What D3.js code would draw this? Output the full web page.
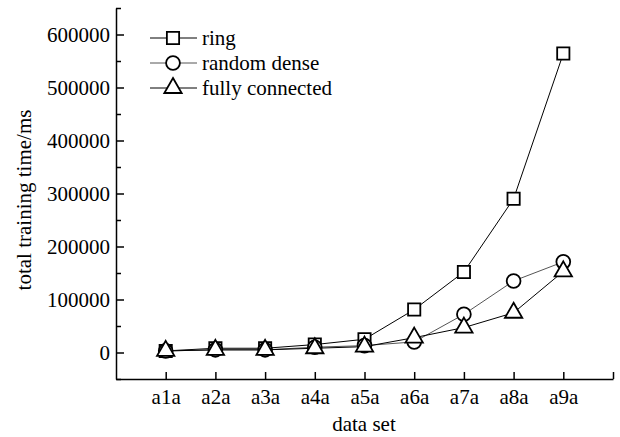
<!DOCTYPE html>
<html>
<head>
<meta charset="utf-8">
<script src="https://cdn.jsdelivr.net/npm/d3@7"></script>
<style>
  body { margin: 0; background: #fff; }
  svg text { font-family: "Liberation Serif", "DejaVu Serif", serif !important; fill: #000; }
</style>
</head>
<body>
<svg id="chart" width="620" height="437"></svg>
<script>
// Datensätze
const dataSets = ["a1a", "a2a", "a3a", "a4a", "a5a", "a6a", "a7a", "a8a", "a9a"];

// Trainingszeiten (ms) je Topologie
const ringValues = [3000, 8000, 8000, 15000, 25000, 81000, 152000, 290000, 564000];
const randomDenseValues = [3000, 5000, 5000, 10000, 13000, 20000, 72000, 135000, 171000];
const fullyConnectedValues = [3000, 5000, 5000, 8000, 11000, 28000, 47000, 75000, 153000];

const yTicks = [0, 100000, 200000, 300000, 400000, 500000, 600000];
const yMinorTicks = [-50000, 50000, 150000, 250000, 350000, 450000, 550000, 650000];

const series = [
  { name: "ring", values: ringValues, symbol: d3.symbolSquare, line: "#000" },
  { name: "random dense", values: randomDenseValues, symbol: d3.symbolCircle, line: "#555" },
  { name: "fully connected", values: fullyConnectedValues, symbol: d3.symbolTriangle, line: "#000" },
];

const FONT = "Liberation Serif";
const svg = d3.select("#chart");

// Skalen
const x = d3.scaleLinear().domain([-1, dataSets.length]).range([116, 613]);
const y = d3.scaleLinear().domain([-50000, 650000]).range([379, 8]);

// Y-Achse (Ticks nach innen)
svg.append("g")
  .attr("transform", "translate(116,0)")
  .call(d3.axisLeft(y).tickValues(yTicks).tickFormat(d3.format("d"))
    .tickSizeInner(-8).tickSizeOuter(0).tickPadding(6))
  .attr("font-family", FONT)
  .call(g => g.selectAll("text").style("font-size", "21px"));

svg.append("g")
  .attr("transform", "translate(116,0)")
  .call(d3.axisLeft(y).tickValues(yMinorTicks).tickFormat("")
    .tickSizeInner(-5).tickSizeOuter(0))
  .call(g => g.select(".domain").remove());

// X-Achse
svg.append("g")
  .attr("transform", "translate(0,379)")
  .call(d3.axisBottom(x).tickValues(d3.range(dataSets.length + 1))
    .tickFormat(i => dataSets[i] || "")
    .tickSizeInner(-7).tickSizeOuter(0).tickPadding(10))
  .attr("font-family", FONT)
  .call(g => g.selectAll("text").style("font-size", "21px"));

svg.selectAll(".domain, .tick line").attr("stroke", "#000").attr("stroke-width", 1.5);

// Achsentitel
svg.append("text")
  .attr("x", 364).attr("y", 431)
  .attr("text-anchor", "middle")
  .style("font-size", "21px")
  .text("data set");

svg.append("text")
  .attr("transform", "translate(31,200) rotate(-90)")
  .attr("text-anchor", "middle")
  .style("font-size", "21px")
  .text("total training time/ms");

// Linien und Marker
const line = d3.line().x((d, i) => x(i)).y(d => y(d));
const symSize = { "ring": 150, "random dense": 150, "fully connected": 130 };

series.forEach(s => {
  svg.append("path")
    .datum(s.values)
    .attr("fill", "none")
    .attr("stroke", s.line)
    .attr("stroke-width", 1)
    .attr("d", line);
});

series.forEach(s => {
  svg.append("g").selectAll("path")
    .data(s.values)
    .join("path")
    .attr("transform", (d, i) => `translate(${x(i)},${y(d)})`)
    .attr("d", d3.symbol(s.symbol, symSize[s.name]))
    .attr("fill", "#fff")
    .attr("stroke", "#000")
    .attr("stroke-width", 1.8);
});

// Legende
const legend = svg.append("g").selectAll("g")
  .data(series)
  .join("g")
  .attr("transform", (d, i) => `translate(0,${38 + i * 25})`);

legend.append("line")
  .attr("x1", 150).attr("x2", 197)
  .attr("stroke", d => d.line).attr("stroke-width", 1);

legend.append("path")
  .attr("transform", "translate(173,0)")
  .attr("d", d => d3.symbol(d.symbol, symSize[d.name])())
  .attr("fill", "#fff").attr("stroke", "#000").attr("stroke-width", 1.8);

legend.append("text")
  .attr("x", 202).attr("dy", "0.35em")
  .style("font-size", "21px")
  .text(d => d.name);
</script>
</body>
</html>
